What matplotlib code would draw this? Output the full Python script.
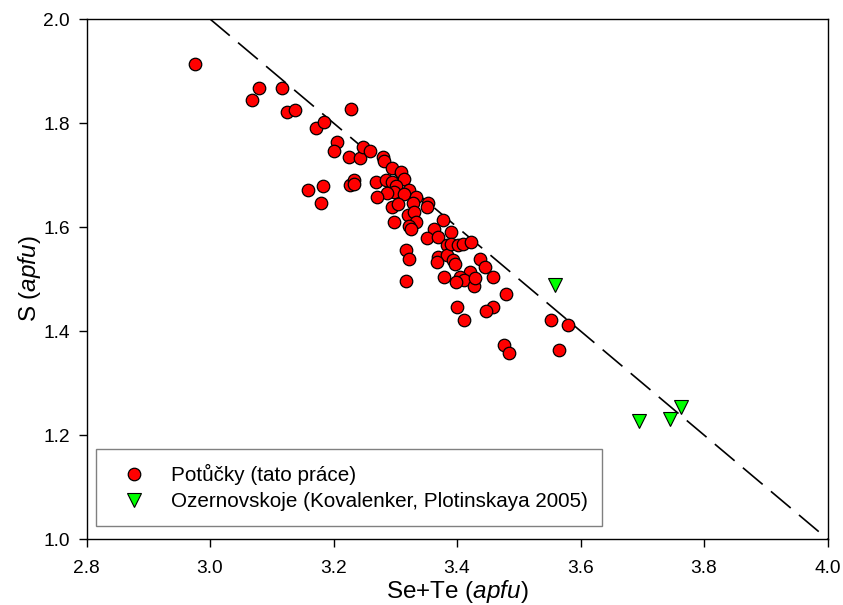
import matplotlib
matplotlib.use("Agg")
import matplotlib.pyplot as plt

plt.rcParams['font.family'] = ['Liberation Sans', 'DejaVu Sans']
plt.rcParams['mathtext.fontset'] = 'custom'
plt.rcParams['mathtext.rm'] = 'Liberation Sans'
plt.rcParams['mathtext.it'] = 'Liberation Sans:italic'

# Potůčky (this work)
pot_x = [2.975, 3.068, 3.080, 3.116, 3.124, 3.137, 3.229, 3.171, 3.185, 3.206,
         3.201, 3.225, 3.243, 3.248, 3.259, 3.158, 3.183, 3.180, 3.226, 3.234,
         3.234, 3.280, 3.281, 3.294, 3.309, 3.314, 3.269, 3.285, 3.294, 3.302,
         3.298, 3.286, 3.270, 3.322, 3.314, 3.333, 3.353, 3.351, 3.329, 3.294,
         3.305, 3.298, 3.320, 3.331, 3.334, 3.323, 3.326, 3.378, 3.362, 3.351,
         3.370, 3.383, 3.318, 3.322, 3.370, 3.383, 3.379, 3.317, 3.390, 3.390,
         3.402, 3.410, 3.422, 3.368, 3.394, 3.397, 3.437, 3.445, 3.458, 3.421,
         3.405, 3.412, 3.428, 3.398, 3.429, 3.480, 3.459, 3.447, 3.400, 3.411,
         3.476, 3.485, 3.552, 3.579, 3.565]
pot_y = [1.913, 1.844, 1.867, 1.867, 1.822, 1.825, 1.827, 1.791, 1.801, 1.763,
         1.747, 1.735, 1.733, 1.753, 1.747, 1.671, 1.678, 1.646, 1.680, 1.690,
         1.683, 1.735, 1.726, 1.714, 1.705, 1.692, 1.686, 1.690, 1.687, 1.679,
         1.668, 1.666, 1.658, 1.672, 1.664, 1.658, 1.646, 1.639, 1.647, 1.639,
         1.644, 1.610, 1.623, 1.628, 1.610, 1.602, 1.596, 1.613, 1.597, 1.578,
         1.581, 1.565, 1.556, 1.538, 1.543, 1.546, 1.504, 1.496, 1.591, 1.567,
         1.565, 1.567, 1.571, 1.533, 1.537, 1.528, 1.538, 1.523, 1.504, 1.514,
         1.504, 1.498, 1.487, 1.494, 1.501, 1.471, 1.446, 1.439, 1.447, 1.422,
         1.373, 1.358, 1.421, 1.412, 1.363]

# Ozernovskoje (Kovalenker, Plotinskaya 2005)
oz_x = [3.559, 3.695, 3.745, 3.762]
oz_y = [1.488, 1.226, 1.230, 1.253]

# ideal line S = 5 - (Se+Te)
line_x = [3.0, 4.0]
line_y = [2.0, 1.0]

xticks = [2.8, 3.0, 3.2, 3.4, 3.6, 3.8, 4.0]
yticks = [1.0, 1.2, 1.4, 1.6, 1.8, 2.0]

fig = plt.figure(figsize=(8.43, 6.05), dpi=100)
ax = fig.add_axes([86.5/843, 1-539/605, (827.5-86.5)/843, (539-19)/605])

ax.plot(line_x, line_y, color='black', lw=1.2, linestyle=(0, (15.5, 6.5)), zorder=1)
ax.plot(pot_x, pot_y, linestyle='none', marker='o', ms=9.0, mfc='#ff0000',
        mec='black', mew=0.9, label='Potůčky (tato práce)', zorder=3)
ax.plot(oz_x, oz_y, linestyle='none', marker='v', ms=9.5, mfc='#00ff00',
        mec='black', mew=0.8, label='Ozernovskoje (Kovalenker, Plotinskaya 2005)', zorder=3)

ax.set_xlim(2.8, 4.0)
ax.set_ylim(1.0, 2.0)
ax.set_xticks(xticks)
ax.set_yticks(yticks)
ax.set_xticklabels([f"{v:.1f}" for v in xticks])
ax.set_yticklabels([f"{v:.1f}" for v in yticks])
ax.tick_params(axis='both', direction='out', length=6, width=1, labelsize=13.8)
ax.tick_params(axis='x', pad=9)
ax.tick_params(axis='y', pad=6)
for s in ax.spines.values():
    s.set_linewidth(1)

ax.set_xlabel('Se+Te ($\\mathit{apfu}$)', fontsize=17.5, labelpad=1)
ax.set_ylabel('S ($\\mathit{apfu}$)', fontsize=17.5, labelpad=0)

leg = ax.legend(loc='upper left', bbox_to_anchor=(95.7/843, 1-449/605),
                bbox_transform=fig.transFigure, borderaxespad=0,
                fontsize=14.9, frameon=True, fancybox=False, borderpad=0.72,
                handlelength=2.3, handletextpad=0.6, labelspacing=0.33,
                numpoints=1)
leg.get_frame().set_edgecolor('#606060')
leg.get_frame().set_linewidth(1)

fig.savefig('out.png', dpi=100)
